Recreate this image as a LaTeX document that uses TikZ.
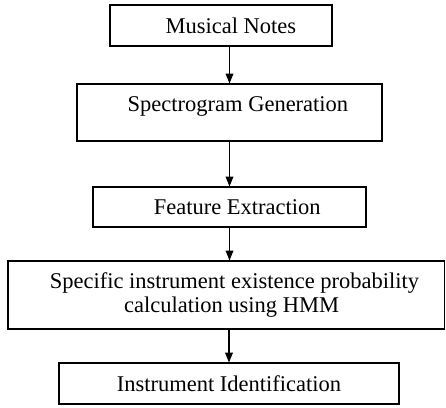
\documentclass[tikz,border=0pt]{standalone}
\usepackage{fontspec}
\setmainfont{Liberation Serif}
\usepackage{tikz}
\usetikzlibrary{arrows.meta}

\begin{document}
\begin{tikzpicture}[x=0.025cm, y=-0.025cm,
    stagebox/.style={draw, line width=0.8pt, inner sep=0pt, align=center,
        font=\fontsize{16}{17.7}\selectfont},
    flowarrow/.style={-{Triangle[length=7pt,width=5.5pt]}, line width=0.8pt}]
    \useasboundingbox (0,0) rectangle (446,407);

    \node[stagebox, minimum width=5.55cm, minimum height=1.025cm] (notes) at (221,25.5) {\hspace*{14pt}Musical Notes};
    \node[stagebox, minimum width=7.625cm, minimum height=1.425cm] (spectro) at (229.5,112.5) {\hspace*{12pt}\raisebox{4pt}[\height][\depth]{Spectrogram Generation}};
    \node[stagebox, minimum width=6.825cm, minimum height=1.0cm] (feature) at (229.5,207) {\hspace*{11pt}Feature Extraction};
    \node[stagebox, minimum width=10.9cm, minimum height=1.7cm] (hmm) at (226,295) {\hspace*{12pt}Specific instrument existence probability\\\hspace*{8pt}calculation using HMM};
    \node[stagebox, minimum width=8.5cm, minimum height=1.025cm] (ident) at (229,383.5) {Instrument Identification};

    % arrows between stages
    \draw[flowarrow] (notes.south -| spectro.north) -- (spectro.north);
    \draw[flowarrow] (spectro.south) -- (feature.north);
    \draw[flowarrow] (feature.south) -- (feature.south |- hmm.north);
    \draw[flowarrow] (hmm.south -| ident.north) -- (ident.north);
\end{tikzpicture}
\end{document}
